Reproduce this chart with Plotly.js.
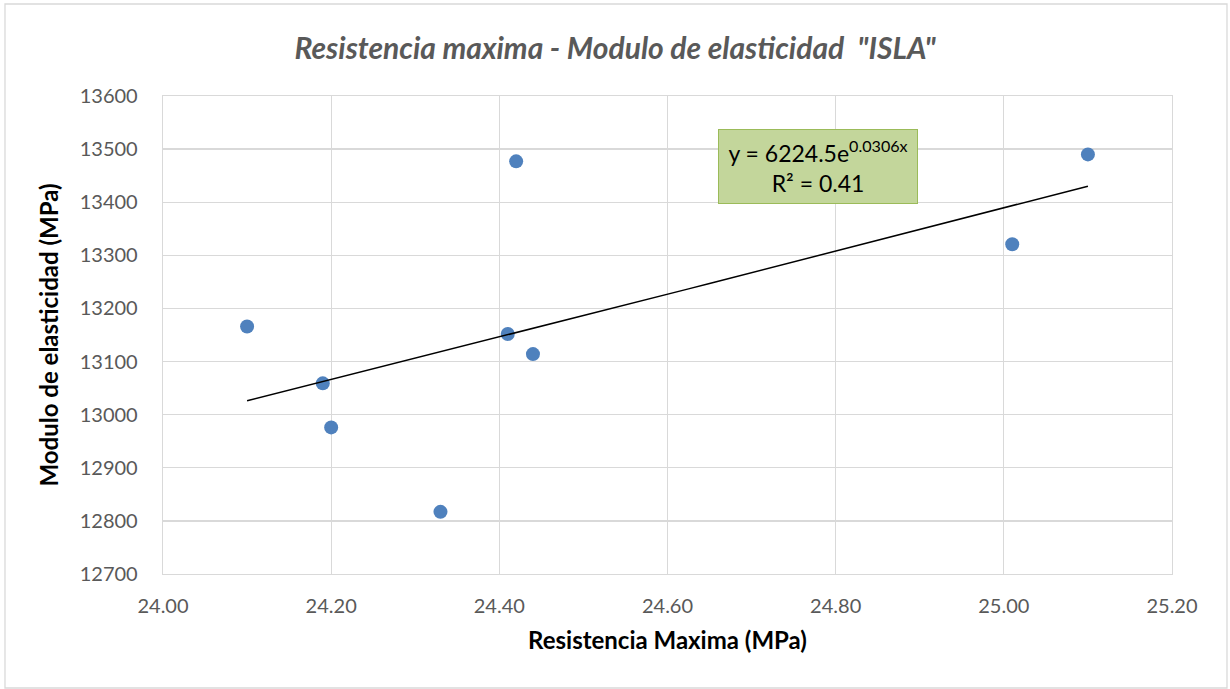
<!DOCTYPE html>
<html>
<head>
<meta charset="utf-8">
<script src="https://cdn.plot.ly/plotly-3.0.1.min.js"></script>
<style>html,body{margin:0;padding:0;background:#fff;}#chart{width:1230px;height:689px;}</style>
</head>
<body>
<div id="chart"></div>
<script>
// Data
const resistencia = [24.10, 24.19, 24.20, 24.33, 24.41, 24.42, 24.44, 25.01, 25.10];
const modulo = [13166, 13059, 12976, 12817, 13152, 13477, 13114, 13321, 13490];
const xTickVals = [24.0, 24.2, 24.4, 24.6, 24.8, 25.0, 25.2];
const yTickVals = [12700, 12800, 12900, 13000, 13100, 13200, 13300, 13400, 13500, 13600];
const chartTitle = 'Resistencia maxima - Modulo de elasticidad  "ISLA"';
const xTitle = 'Resistencia Maxima (MPa)';
const yTitle = 'Modulo de elasticidad (MPa)';
const equationText = 'y = 6224.5e<sup>0.0306x</sup><br>R² = 0.41';

// Exponential trendline fitted to the data (least squares on ln y)
const n = resistencia.length;
const lny = modulo.map(v => Math.log(v));
const mx = resistencia.reduce((a, b) => a + b, 0) / n;
const my = lny.reduce((a, b) => a + b, 0) / n;
let sxy = 0, sxx = 0;
for (let i = 0; i < n; i++) { sxy += (resistencia[i] - mx) * (lny[i] - my); sxx += (resistencia[i] - mx) ** 2; }
const bCoef = sxy / sxx;
const aCoef = Math.exp(my - bCoef * mx);
const xMin = Math.min(...resistencia), xMax = Math.max(...resistencia);
const trendX = [], trendY = [];
for (let k = 0; k <= 40; k++) {
  const xv = xMin + (xMax - xMin) * k / 40;
  trendX.push(xv);
  trendY.push(aCoef * Math.exp(bCoef * xv));
}

const font = "Lato, 'Open Sans', sans-serif";
const data = [
  { x: resistencia, y: modulo, type: 'scatter', mode: 'markers',
    marker: { color: '#4f81bd', size: 14, line: { width: 0 } }, showlegend: false, hoverinfo: 'x+y' },
  { x: trendX, y: trendY, type: 'scatter', mode: 'lines',
    line: { color: '#000000', width: 1.5 }, showlegend: false, hoverinfo: 'skip' }
];

const layout = {
  width: 1230, height: 689,
  paper_bgcolor: '#ffffff', plot_bgcolor: '#ffffff',
  margin: { l: 163, r: 58, t: 96, b: 115 },
  font: { family: font, color: '#595959' },
  title: { text: '<b><i>' + chartTitle + '</i></b>', font: { family: font, size: 30, color: '#595959' },
           x: 0.5, xanchor: 'center', y: 0.93, yanchor: 'middle' },
  xaxis: {
    range: [24.0, 25.2], tickvals: xTickVals, ticktext: xTickVals.map(v => v.toFixed(2)),
    showgrid: true, gridcolor: '#d9d9d9', gridwidth: 1.3, zeroline: false,
    showline: true, linecolor: '#d9d9d9', linewidth: 1.3, mirror: true, ticks: '',
    tickfont: { family: font, size: 20, color: '#595959' }, ticklabelstandoff: 14,
    title: { text: '<b>' + xTitle + '</b>', font: { family: font, size: 24, color: '#000000' }, standoff: 16 }
  },
  yaxis: {
    range: [12700, 13600], tickvals: yTickVals, ticktext: yTickVals.map(String),
    showgrid: true, gridcolor: '#d9d9d9', gridwidth: 1.3, zeroline: false,
    showline: true, linecolor: '#d9d9d9', linewidth: 1.3, mirror: true, ticks: '',
    tickfont: { family: font, size: 20, color: '#595959' }, ticklabelstandoff: 20,
    title: { text: '<b>' + yTitle + '</b>', font: { family: font, size: 24, color: '#000000' }, standoff: 14 }
  },
  annotations: [{
    x: 24.779, y: 13468, xref: 'x', yref: 'y', showarrow: false,
    text: equationText, width: 196, height: 71, align: 'center', valign: 'middle',
    bgcolor: '#c3d69b', bordercolor: '#9bbb59', borderwidth: 1,
    font: { family: font, size: 23, color: '#000000' }
  }],
  shapes: [{
    type: 'rect', xref: 'paper', yref: 'paper', layer: 'below',
    x0: -0.1566, x1: 1.0545, y0: -0.2385, y1: 1.1925,
    line: { color: '#d9d9d9', width: 1.3 }, fillcolor: 'rgba(0,0,0,0)'
  }]
};

Plotly.newPlot('chart', data, layout, { displayModeBar: false, staticPlot: true });
</script>
</body>
</html>
